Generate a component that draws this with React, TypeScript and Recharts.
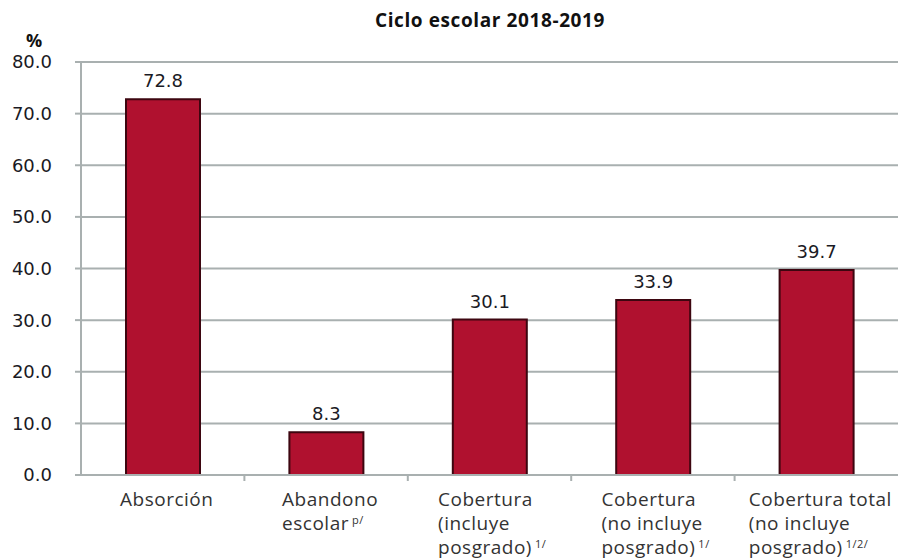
import { BarChart, Bar, XAxis, YAxis, CartesianGrid, LabelList } from 'recharts';

const categories = [
  'Absorción',
  'Abandono escolar',
  'Cobertura (incluye posgrado)',
  'Cobertura (no incluye posgrado)',
  'Cobertura total (no incluye posgrado)',
];
const values = [72.8, 8.3, 30.1, 33.9, 39.7];
const labelLines = [
  ['Absorción'],
  ['Abandono', 'escolar'],
  ['Cobertura', '(incluye', 'posgrado)'],
  ['Cobertura', '(no incluye', 'posgrado)'],
  ['Cobertura total', '(no incluye', 'posgrado)'],
];
const notes = ['', 'p/', '1/', '1/', '1/2/'];
const yTicks = [0, 10, 20, 30, 40, 50, 60, 70, 80];

const data = categories.map((name, i) => ({ name, value: values[i] }));

const W = 898;
const H = 559;
const GRID = '#a9b0b0';
const BAR = '#b0112f';
const LABEL_FONT = "'Open Sans', sans-serif";
const LABEL_SIZE = 19;
const LS = 0.5;

let ctx: CanvasRenderingContext2D | null = null;
function measure(s: string) {
  if (!ctx) ctx = document.createElement('canvas').getContext('2d');
  if (!ctx) return s.length * 10;
  ctx.font = `${LABEL_SIZE}px 'Open Sans'`;
  return ctx.measureText(s).width + s.length * LS;
}

function CategoryTick(props: any) {
  const { x, y, payload, index } = props;
  const i = categories.indexOf(payload.value);
  const lines = labelLines[i] ?? [payload.value];
  const widths = lines.map((l, k) => measure(l) + (k === lines.length - 1 && notes[i] ? notes[i].length * 7 + 3 : 0));
  const left = x - Math.max(...widths) / 2 + 4;
  const band = (W - 81) / categories.length;
  return (
    <g>
      {index < categories.length - 1 && (
        <line x1={x + band / 2} x2={x + band / 2} y1={y - 8} y2={y - 2} stroke={GRID} strokeWidth={2} />
      )}
      <text
        x={left}
        y={y}
        fontFamily={LABEL_FONT}
        fontSize={LABEL_SIZE}
        letterSpacing={LS}
        fill="#333"
        textAnchor="start"
      >
        {lines.map((l, k) => (
          <tspan key={k} x={left} y={y + 23 + k * 24}>
            {l}
            {k === lines.length - 1 && notes[i] ? (
              <tspan fontSize={11} dy={-6} dx={3}>
                {notes[i]}
              </tspan>
            ) : null}
          </tspan>
        ))}
      </text>
    </g>
  );
}

export default function App() {
  return (
    <div style={{ position: 'absolute', left: 0, top: 0, width: W, height: H, background: '#fff' }}>
      <div
        style={{
          position: 'absolute',
          left: 0,
          width: 980,
          top: 7,
          textAlign: 'center',
          fontFamily: "'Open Sans', sans-serif",
          fontWeight: 700,
          fontSize: 19,
          letterSpacing: 0.6,
          color: '#111',
        }}
      >
        Ciclo escolar 2018-2019
      </div>
      <div
        style={{
          position: 'absolute',
          left: 26,
          top: 28,
          fontFamily: "'Open Sans', sans-serif",
          fontWeight: 700,
          fontSize: 18,
          color: '#111',
        }}
      >
        %
      </div>
      <BarChart width={W} height={H} data={data} margin={{ top: 62, right: 0, left: 0, bottom: 0 }}>
        <CartesianGrid vertical={false} stroke={GRID} strokeWidth={2} />
        <XAxis
          dataKey="name"
          height={84}
          interval={0}
          tickLine={false}
          tickSize={6}
          tickMargin={2}
          axisLine={{ stroke: GRID, strokeWidth: 2 }}
          tick={<CategoryTick />}
        />
        <YAxis
          width={81}
          domain={[0, 80]}
          ticks={yTicks}
          interval={0}
          tickFormatter={(v: number) => v.toFixed(1)}
          tickSize={6}
          tickMargin={23}
          axisLine={{ stroke: GRID, strokeWidth: 2 }}
          tickLine={{ stroke: GRID, strokeWidth: 2 }}
          tick={{ fill: '#1a1a24', fontSize: 18, fontFamily: "'DejaVu Sans', sans-serif" }}
        />
        <Bar dataKey="value" fill={BAR} stroke="#3d0610" strokeWidth={2} barSize={74} isAnimationActive={false}>
          <LabelList
            dataKey="value"
            position="top"
            offset={12}
            formatter={(v: any) => Number(v).toFixed(1)}
            fill="#1a1a24"
            fontSize={18}
            fontFamily="'DejaVu Sans', sans-serif"
          />
        </Bar>
      </BarChart>
    </div>
  );
}
